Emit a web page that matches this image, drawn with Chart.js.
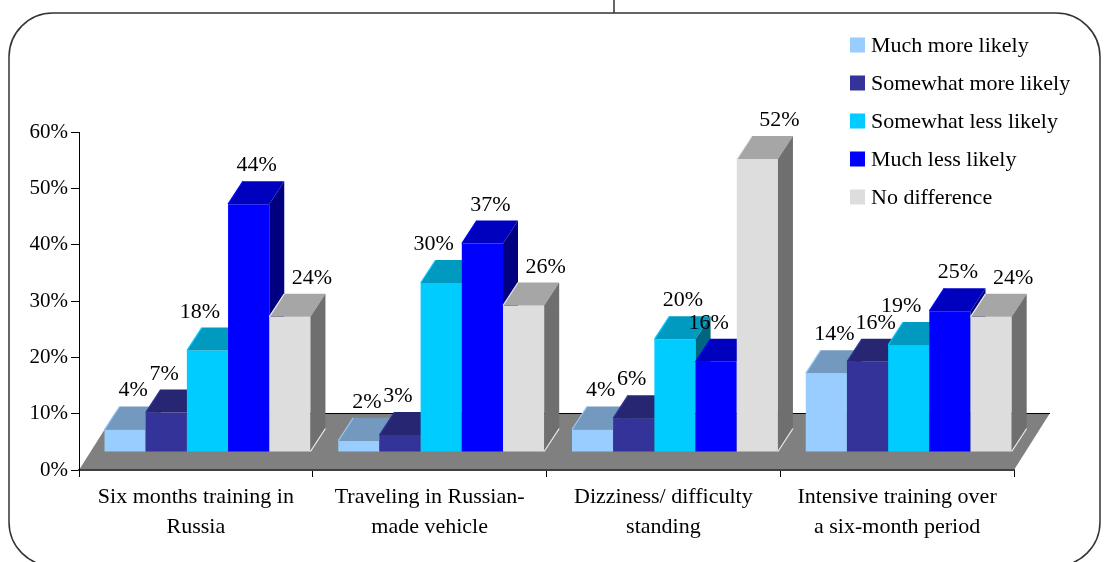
<!DOCTYPE html>
<html>
<head>
<meta charset="utf-8">
<script src="https://cdn.jsdelivr.net/npm/chart.js@4.4.1/dist/chart.umd.min.js"></script>
<style>
  body{margin:0;background:#fff;}
  #GraficoEncuesta{display:block;}
</style>
</head>
<body>
<canvas id="GraficoEncuesta" width="1104" height="562"></canvas>
<script>
    // datos del grafico
    let categorias = [["Six months training in", "Russia"], ["Traveling in Russian-", "made vehicle"],
        ["Dizziness/ difficulty", "standing"], ["Intensive training over", "a six-month period"]];
    let series = ["Much more likely", "Somewhat more likely", "Somewhat less likely", "Much less likely", "No difference"];
    let muchMore = [4, 2, 4, 14];
    let somewhatMore = [7, 3, 6, 16];
    let somewhatLess = [18, 30, 20, 19];
    let muchLess = [44, 37, 16, 25];
    let noDifference = [24, 26, 52, 24];
    let ticksY = [0, 10, 20, 30, 40, 50, 60];

    let colores = ["#99CCFF", "#333399", "#00CCFF", "#0000FF", "#DDDDDD"];
    let valores = [muchMore, somewhatMore, somewhatLess, muchLess, noDifference];
    let fuente = "'Liberation Serif', 'Times New Roman', serif";

    // profundidad de las barras y del piso
    const DX = 15, DY = -23;
    const FX = 11.6, FY = -18;
    const PISO_X = 36, PISO_Y = -57;

    function sombra(hex, f) {
        let n = parseInt(hex.slice(1), 16);
        let r = Math.round(((n >> 16) & 255) * f), g = Math.round(((n >> 8) & 255) * f), b = Math.round((n & 255) * f);
        return "rgb(" + r + "," + g + "," + b + ")";
    }

    const barras3d = {
        id: "barras3d",
        beforeDraw(chart) {
            let ctx = chart.ctx, a = chart.chartArea;
            ctx.save();
            // marco redondeado
            ctx.strokeStyle = "#333";
            ctx.lineWidth = 1.5;
            ctx.beginPath();
            ctx.roundRect(9, 13, 1091, 553, 44);
            ctx.stroke();
            ctx.beginPath();
            ctx.moveTo(614, 0);
            ctx.lineTo(614, 13);
            ctx.stroke();
            // piso
            ctx.fillStyle = "#808080";
            ctx.beginPath();
            ctx.moveTo(a.left, a.bottom);
            ctx.lineTo(a.right, a.bottom);
            ctx.lineTo(a.right + PISO_X, a.bottom + PISO_Y);
            ctx.lineTo(a.left + PISO_X, a.bottom + PISO_Y);
            ctx.closePath();
            ctx.fill();
            ctx.strokeStyle = "#000";
            ctx.lineWidth = 1;
            ctx.beginPath();
            ctx.moveTo(a.left + PISO_X, a.bottom + PISO_Y + 0.5);
            ctx.lineTo(a.right + PISO_X, a.bottom + PISO_Y + 0.5);
            ctx.stroke();
            ctx.restore();
        },
        // las barras se dibujan abajo, en orden de serie
        beforeDatasetDraw() {
            return false;
        },
        afterDatasetsDraw(chart) {
            let ctx = chart.ctx;
            ctx.save();
            ctx.translate(FX, FY);
            chart.data.datasets.forEach(function (ds, i) {
                let color = colores[i];
                chart.getDatasetMeta(i).data.forEach(function (bar) {
                    bar.draw(ctx);
                    let p = bar.getProps(["x", "y", "base", "width"], true);
                    let l = p.x - p.width / 2, r = p.x + p.width / 2;
                    // cara superior
                    ctx.fillStyle = sombra(color, 0.75);
                    ctx.beginPath();
                    ctx.moveTo(l, p.y);
                    ctx.lineTo(r, p.y);
                    ctx.lineTo(r + DX, p.y + DY);
                    ctx.lineTo(l + DX, p.y + DY);
                    ctx.closePath();
                    ctx.fill();
                    // cara lateral
                    ctx.fillStyle = sombra(color, 0.5);
                    ctx.beginPath();
                    ctx.moveTo(r, p.y);
                    ctx.lineTo(r + DX, p.y + DY);
                    ctx.lineTo(r + DX, p.base + DY);
                    ctx.lineTo(r, p.base);
                    ctx.closePath();
                    ctx.fill();
                    // bordes claros
                    ctx.strokeStyle = i === 4 ? "#EEEEEE" : sombra(color, 1.0);
                    ctx.lineWidth = 1.2;
                    ctx.beginPath();
                    ctx.moveTo(l, p.y);
                    ctx.lineTo(l + DX, p.y + DY);
                    if (i === 4) {
                        ctx.moveTo(r, p.base);
                        ctx.lineTo(r + DX, p.base + DY);
                    }
                    ctx.stroke();
                });
            });
            ctx.restore();

            // etiquetas de valores
            ctx.save();
            ctx.font = "22px " + fuente;
            ctx.fillStyle = "#000";
            ctx.textAlign = "center";
            ctx.textBaseline = "alphabetic";
            let n = chart.data.datasets.length;
            chart.data.datasets.forEach(function (ds, i) {
                chart.getDatasetMeta(i).data.forEach(function (bar, j) {
                    let p = bar.getProps(["x", "y", "width"], true);
                    let texto = ds.data[j] + "%";
                    let w = ctx.measureText(texto).width;
                    let by = p.y + FY + DY - 10;
                    let cx = p.x + FX + (i < n - 1 ? 8 : 22);
                    // si la barra siguiente tapa la etiqueta, se corre a la izquierda
                    if (i < n - 1) {
                        let sig = chart.getDatasetMeta(i + 1).data[j].getProps(["x", "y", "width"], true);
                        let sigLeft = sig.x - sig.width / 2 + FX;
                        if (sig.y + FY + DY < by - 8 && cx + w / 2 > sigLeft - 8) {
                            cx = sigLeft - 8 - w / 2;
                        }
                    }
                    ctx.fillText(texto, cx, by);
                });
            });
            ctx.restore();
        },
        afterDraw(chart) {
            // leyenda
            let ctx = chart.ctx;
            ctx.save();
            ctx.font = "22px " + fuente;
            ctx.textBaseline = "middle";
            ctx.textAlign = "left";
            chart.data.datasets.forEach(function (ds, i) {
                let y = 45 + 38 * i;
                ctx.fillStyle = ds.backgroundColor;
                ctx.fillRect(850, y - 7.5, 15, 15);
                ctx.fillStyle = "#000";
                ctx.fillText(ds.label, 871, y + 1);
            });
            ctx.restore();
        }
    };

    let miCanvas = document.getElementById("GraficoEncuesta").getContext("2d");

    var chart = new Chart(miCanvas, {
        type: "bar",
        data: {
            labels: categorias,
            datasets: series.map(function (nombre, i) {
                return {
                    label: nombre,
                    data: valores[i],
                    backgroundColor: colores[i],
                    borderWidth: 0,
                    categoryPercentage: 0.881,
                    barPercentage: 1
                };
            })
        },
        options: {
            responsive: false,
            animation: false,
            events: [],
            layout: {padding: {top: 132, right: 90, left: 0, bottom: 0}},
            plugins: {
                legend: {display: false},
                tooltip: {enabled: false}
            },
            scales: {
                x: {
                    afterFit: function (s) { s.height = 92; },
                    grid: {display: true, drawOnChartArea: false, drawTicks: true, tickLength: 7, color: "#000", offset: true},
                    border: {display: true, color: "#404040", width: 2},
                    ticks: {
                        color: "#000",
                        maxRotation: 0,
                        autoSkip: false,
                        padding: 5,
                        font: {family: fuente, size: 22, lineHeight: 1.36}
                    }
                },
                y: {
                    min: ticksY[0],
                    max: ticksY[ticksY.length - 1],
                    afterFit: function (s) { s.width = 79; },
                    afterBuildTicks: function (s) { s.ticks = ticksY.map(function (v) { return {value: v}; }); },
                    grid: {display: true, drawOnChartArea: false, drawTicks: true, tickLength: 8, color: "#000"},
                    border: {display: true, color: "#000", width: 1},
                    ticks: {
                        color: "#000",
                        padding: 3,
                        font: {family: fuente, size: 21},
                        callback: function (v) { return v + "%"; }
                    }
                }
            }
        },
        plugins: [barras3d]
    });
</script>
</body>
</html>
